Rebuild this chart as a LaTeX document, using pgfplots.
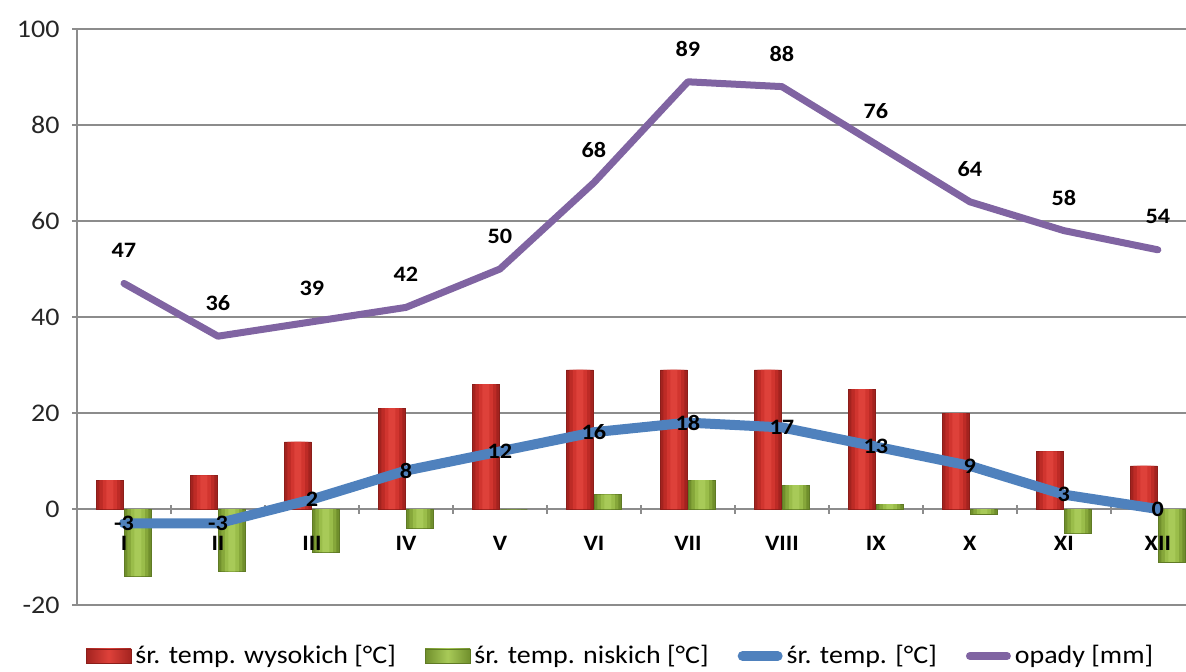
\documentclass[border=0pt]{standalone}
\usepackage{pgfplots}
\usepackage{pgfplotstable}
\pgfplotsset{compat=1.18}
\usepackage{fontspec}
\setmainfont{Carlito}[FakeStretch=1.1]
\definecolor{redA}{HTML}{A3231F}
\definecolor{redB}{HTML}{BD2B26}
\definecolor{redC}{HTML}{D1352F}
\definecolor{redD}{HTML}{DE413A}
\definecolor{grnA}{HTML}{708F2C}
\definecolor{grnB}{HTML}{86A73A}
\definecolor{grnC}{HTML}{9ABD4A}
\definecolor{grnD}{HTML}{A8CA58}
\definecolor{blueL}{HTML}{4F81BD}
\definecolor{purL}{HTML}{8064A2}
\definecolor{gridG}{HTML}{8C8C8C}

\pgfplotsset{
  basefr/.style={
    at={(0pt,0pt)}, anchor=south west,
    scale only axis, width=554.5pt, height=288pt,
    xmin=0.5, xmax=12.3, ymin=-20, ymax=100,
    hide obscured x ticks=false, hide obscured y ticks=false,
    xtick={0.5,1.5,2.5,3.5,4.5,5.5,6.5,7.5,8.5,9.5,10.5,11.5},
    tick align=outside, major tick length=4.5pt,
    /pgf/number format/assume math mode=true,
  }
}

\pgfplotstableread{
x hi lo avg rain
1 6 -14 -3 47
2 7 -13 -3 36
3 14 -9 2 39
4 21 -4 8 42
5 26 0 12 50
6 29 3 16 68
7 29 6 18 89
8 29 5 17 88
9 25 1 13 76
10 20 -1 9 64
11 12 -5 3 58
12 9 -11 0 54
}\datatab

\begin{document}
\begin{tikzpicture}
\path[use as bounding box] (-38.5pt,-33pt) rectangle (554.5pt,302.5pt);
\begin{axis}[
 basefr,
 axis x line=middle, axis y line=left,
 axis line style={-, draw=gridG, line width=0.8pt},
 ytick={-20,0,20,40,60,80,100},
 ymajorgrids, grid style={draw=gridG, line width=0.8pt},
 xticklabels={,,,,,,,,,,,},
 yticklabel style={xshift=-3pt, font=\fontsize{12.7}{15}\selectfont, text=black!85},
 tick style={draw=gridG, line width=0.8pt},
 legend columns=4,
 legend style={at={(0.491,-0.0885)}, anchor=center, draw=none, fill=none,
   font=\fontsize{12.7}{15}\selectfont,
   /tikz/every even column/.append style={column sep=12.5pt},
   /tikz/every odd column/.append style={column sep=0pt}},
]
% high temperatures (layered to imitate the rounded shading)
\addplot[ybar, bar width=13.5pt, bar shift=-7pt, draw=redA!85!black, line width=0.3pt, fill=redA,
  legend image code/.code={\path[left color=redA, right color=redA, middle color=redD] (0pt,-3.5pt) rectangle (22.5pt,3.5pt);}]
  table[x=x, y=hi] {\datatab};
\addlegendentry{śr. temp. wysokich [°C]}
\addplot[forget plot, ybar, bar width=10.5pt, bar shift=-7pt, draw=none, fill=redB] table[x=x, y=hi] {\datatab};
\addplot[forget plot, ybar, bar width=7pt, bar shift=-7pt, draw=none, fill=redC] table[x=x, y=hi] {\datatab};
\addplot[forget plot, ybar, bar width=3.5pt, bar shift=-7pt, draw=none, fill=redD] table[x=x, y=hi] {\datatab};
% low temperatures
\addplot[ybar, bar width=13.5pt, bar shift=7pt, draw=grnA!85!black, line width=0.3pt, fill=grnA,
  legend image code/.code={\path[left color=grnA, right color=grnA, middle color=grnD] (0pt,-3.5pt) rectangle (22.5pt,3.5pt);}]
  table[x=x, y=lo] {\datatab};
\addlegendentry{śr. temp. niskich [°C]}
\addplot[forget plot, ybar, bar width=10.5pt, bar shift=7pt, draw=none, fill=grnB] table[x=x, y=lo] {\datatab};
\addplot[forget plot, ybar, bar width=7pt, bar shift=7pt, draw=none, fill=grnC] table[x=x, y=lo] {\datatab};
\addplot[forget plot, ybar, bar width=3.5pt, bar shift=7pt, draw=none, fill=grnD] table[x=x, y=lo] {\datatab};
% mean temperature
\addplot[blueL, line width=5pt, line join=round, line cap=round, mark=none,
  nodes near coords, every node near coord/.append style={anchor=center, text=black, font=\fontsize{11}{13}\selectfont\bfseries},
  legend image code/.code={\draw[blueL, line width=5pt, line cap=round] (2.5pt,0pt) -- (20pt,0pt);}]
  table[x=x, y=avg] {\datatab};
\addlegendentry{śr. temp. [°C]}
% precipitation
\addplot[purL, line width=3.5pt, line join=round, line cap=round, mark=none,
  nodes near coords, every node near coord/.append style={anchor=center, yshift=16.5pt, text=black, font=\fontsize{11}{13}\selectfont\bfseries},
  legend image code/.code={\draw[purL, line width=4pt, line cap=round] (2pt,0pt) -- (20.5pt,0pt);}]
  table[x=x, y=rain] {\datatab};
\addlegendentry{opady [mm]}
\end{axis}
% overlay axis: month labels drawn above the bars
\begin{axis}[
 basefr,
 axis x line=middle, axis y line=none,
 axis line style={draw=none},
 ytick=\empty,
 tick style={draw=none},
 xticklabels={I,II,III,IV,V,VI,VII,VIII,IX,X,XI,XII},
 xticklabel style={xshift=23.5pt, yshift=-8pt, font=\fontsize{11}{13}\selectfont\bfseries, text=black},
]
\end{axis}
\end{tikzpicture}
\end{document}
